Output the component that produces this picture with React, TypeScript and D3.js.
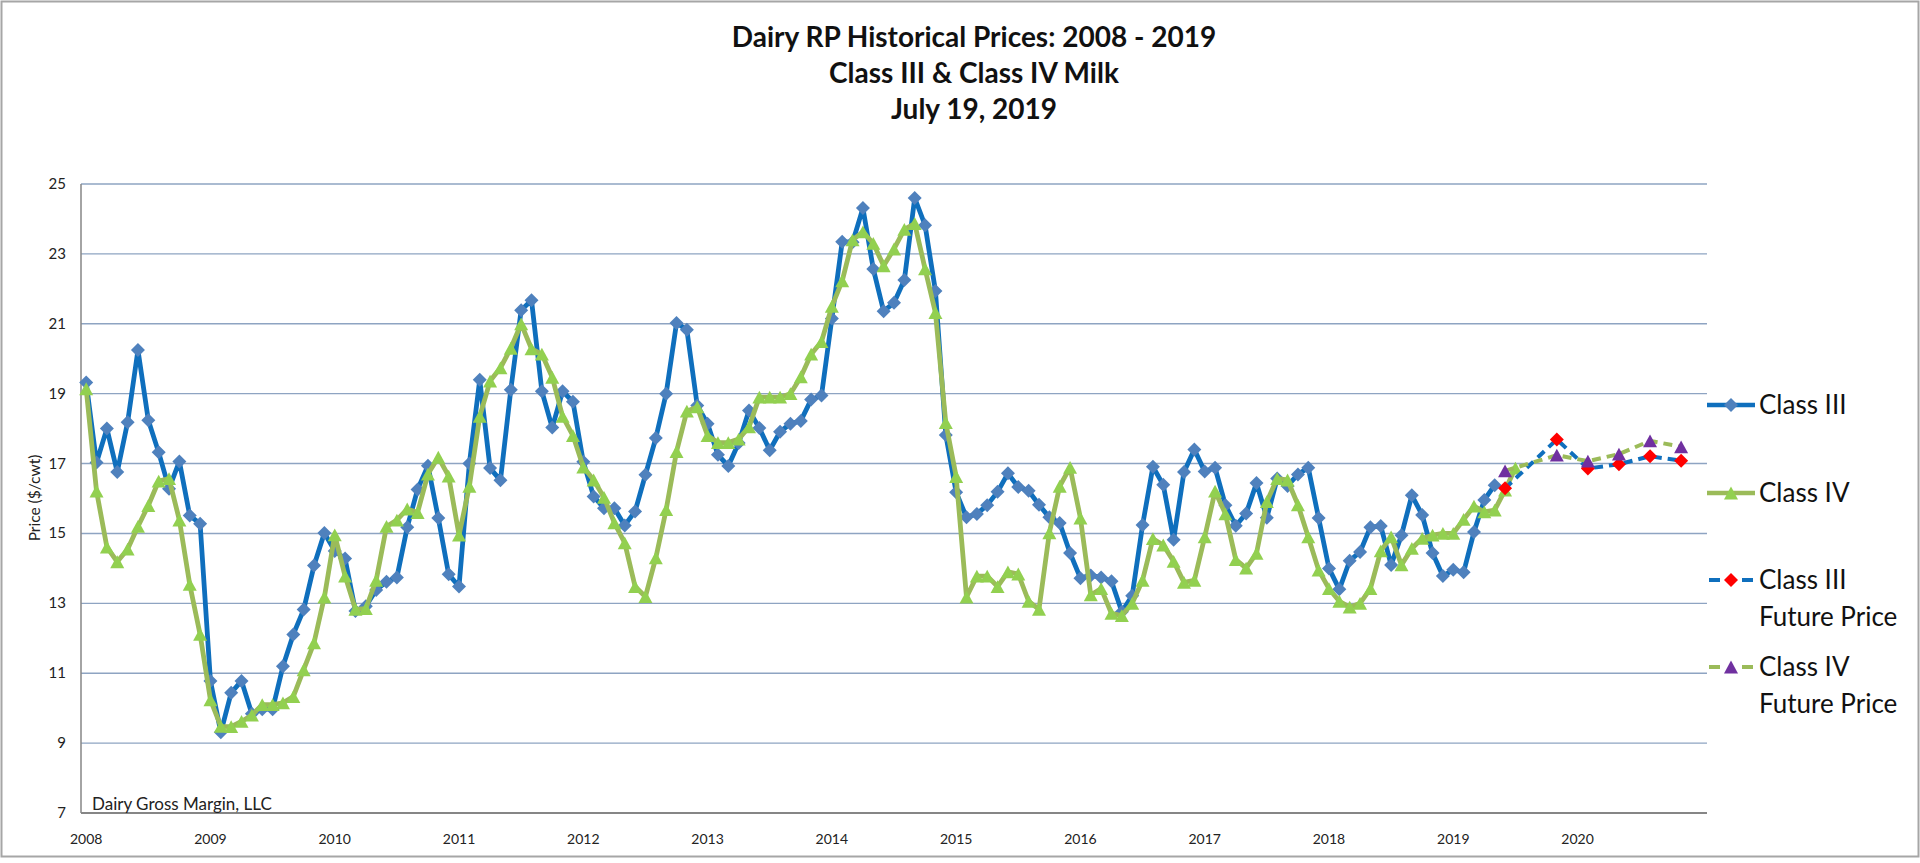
import * as d3 from 'd3'

// monthly series, index 0 = Jan 2008
const years = ['2008', '2009', '2010', '2011', '2012', '2013', '2014', '2015', '2016', '2017', '2018', '2019', '2020']

const classIII = [
  19.32, 17.03, 18.0, 16.76, 18.18, 20.25, 18.24, 17.32, 16.28, 17.06, 15.51, 15.28,
  10.78, 9.31, 10.44, 10.78, 9.84, 9.97, 9.97, 11.2, 12.11, 12.82, 14.08, 15.01,
  14.5, 14.28, 12.78, 12.92, 13.38, 13.62, 13.74, 15.18, 16.26, 16.94, 15.44, 13.83,
  13.48, 17.0, 19.4, 16.87, 16.52, 19.11, 21.39, 21.67, 19.07, 18.03, 19.07, 18.77,
  17.05, 16.06, 15.72, 15.72, 15.23, 15.63, 16.68, 17.73, 19.0, 21.02, 20.83, 18.66,
  18.14, 17.25, 16.93, 17.59, 18.52, 18.02, 17.38, 17.91, 18.14, 18.22, 18.83, 18.95,
  21.15, 23.35, 23.33, 24.31, 22.57, 21.36, 21.6, 22.25, 24.6, 23.82, 21.94, 17.82,
  16.18, 15.46, 15.56, 15.81, 16.19, 16.72, 16.33, 16.22, 15.82, 15.46, 15.3, 14.44,
  13.72, 13.8, 13.74, 13.63, 12.76, 13.22, 15.24, 16.91, 16.39, 14.82, 16.76, 17.4,
  16.77, 16.88, 15.81, 15.22, 15.57, 16.44, 15.45, 16.57, 16.36, 16.69, 16.88, 15.44,
  14.0, 13.4, 14.22, 14.47, 15.18, 15.21, 14.1, 14.95, 16.09, 15.53, 14.44, 13.78,
  13.96, 13.89, 15.04, 15.96, 16.38,
]

const classIV = [
  19.14, 16.21, 14.61, 14.19, 14.55, 15.2, 15.8, 16.5, 16.57, 15.38, 13.54, 12.11,
  10.24, 9.48, 9.47, 9.62, 9.8, 10.1, 10.1, 10.15, 10.33, 11.1, 11.87, 13.18,
  14.96, 13.78, 12.83, 12.85, 13.66, 15.2, 15.38, 15.7, 15.6, 16.7, 17.18, 16.64,
  14.95, 16.35, 18.35, 19.36, 19.74, 20.3, 21.0, 20.28, 20.13, 19.47, 18.35, 17.8,
  16.9, 16.53, 16.03, 15.3, 14.73, 13.48, 13.19, 14.3, 15.68, 17.34, 18.5, 18.62,
  17.8, 17.6, 17.6, 17.7, 18.05, 18.9, 18.9, 18.9, 19.0, 19.48, 20.13, 20.49,
  21.5, 22.23, 23.4, 23.63, 23.3, 22.66, 23.14, 23.7, 23.87, 22.57, 21.32, 18.17,
  16.63, 13.18, 13.78, 13.78, 13.48, 13.9, 13.84, 13.06, 12.83, 15.02, 16.35, 16.89,
  15.44, 13.24, 13.42, 12.71, 12.65, 13.0, 13.66, 14.85, 14.67, 14.2, 13.6, 13.66,
  14.9, 16.21, 15.56, 14.25, 14.01, 14.43, 15.91, 16.57, 16.53, 15.82, 14.9, 13.95,
  13.42, 13.06, 12.89, 13.0, 13.42, 14.5, 14.9, 14.1, 14.57, 14.86, 14.95, 15.0,
  15.0, 15.4, 15.78, 15.62, 15.67, 16.24, 16.87,
]

const futureDates = ['2019-06', '2019-11', '2020-02', '2020-05', '2020-08', '2020-11']
const classIIIFuture = [16.29, 17.69, 16.86, 16.98, 17.21, 17.08]
const classIVFuture = [16.79, 17.24, 17.07, 17.27, 17.65, 17.48]

const yTicks = [7, 9, 11, 13, 15, 17, 19, 21, 23, 25]
const titleLines = ['Dairy RP Historical Prices: 2008 - 2019', 'Class III & Class IV Milk', 'July 19, 2019']

const W = 1920
const H = 863
const FONT = 'Lato, "Open Sans", sans-serif'

const BLUE_LINE = '#0f6fbd'
const BLUE_MARK = '#4f81bd'
const GREEN_LINE = '#9bbb59'
const GREEN_MARK = '#92d050'
const RED_MARK = '#ff0000'
const PURPLE_MARK = '#7030a0'

type Pt = { m: number; v: number }

const monthIndex = (s: string) => {
  const [y, mo] = s.split('-').map(Number)
  return (y - 2008) * 12 + (mo - 1)
}

const diamond = (r: number) => `M0,${-r}L${r},0L0,${r}L${-r},0Z`
const triangle = (w: number, h: number) => `M0,${-h}L${w},${h}L${-w},${h}Z`

export default function App() {
  const x = d3.scaleLinear().domain([-0.5, 156.5]).range([81, 1707])
  const y = d3.scaleLinear().domain([7, 25]).range([813, 184])

  const line = d3
    .line<Pt>()
    .x(d => x(d.m))
    .y(d => y(d.v))

  const s3: Pt[] = classIII.map((v, i) => ({ m: i, v }))
  const s4: Pt[] = classIV.map((v, i) => ({ m: i, v }))
  const f3: Pt[] = classIIIFuture.map((v, i) => ({ m: monthIndex(futureDates[i]), v }))
  const f4: Pt[] = classIVFuture.map((v, i) => ({ m: monthIndex(futureDates[i]), v }))

  const dia = diamond(7)
  const tri = triangle(7, 6.4)

  const legend = [
    { lines: ['Class III'], y: 405, stroke: BLUE_LINE, fill: BLUE_MARK, dashed: false, mark: dia },
    { lines: ['Class IV'], y: 493, stroke: GREEN_LINE, fill: GREEN_MARK, dashed: false, mark: tri },
    { lines: ['Class III', 'Future Price'], y: 580, stroke: BLUE_LINE, fill: RED_MARK, dashed: true, mark: dia },
    { lines: ['Class IV', 'Future Price'], y: 667, stroke: GREEN_LINE, fill: PURPLE_MARK, dashed: true, mark: tri },
  ]

  return (
    <svg width={W} height={H} style={{ position: 'absolute', left: 0, top: 0, background: '#fff' }} fontFamily={FONT}>
      <rect x={1.5} y={1.5} width={W - 3} height={855} fill="#fff" stroke="#a6a6a6" strokeWidth={2} />

      {titleLines.map((t, i) => (
        <text key={t} x={974} y={47 + i * 36} textAnchor="middle" fontSize={28} fontWeight={700} fill="#111">
          {t}
        </text>
      ))}

      {/* gridlines */}
      {yTicks.slice(1).map(t => (
        <line key={t} x1={81} x2={1707} y1={y(t)} y2={y(t)} stroke="#8ea4c2" strokeWidth={1.4} />
      ))}
      <line x1={81} x2={81} y1={y(25)} y2={y(7)} stroke="#868686" strokeWidth={1.5} />
      <line x1={81} x2={1707} y1={y(7)} y2={y(7)} stroke="#868686" strokeWidth={2} />

      {yTicks.map(t => (
        <text key={t} x={66} y={y(t) + 5} textAnchor="end" fontSize={15} fill="#222">
          {t}
        </text>
      ))}
      {years.map((yr, i) => (
        <text key={yr} x={x(i * 12)} y={844} textAnchor="middle" fontSize={14} fill="#222">
          {yr}
        </text>
      ))}
      <text transform="translate(40,498) rotate(-90)" textAnchor="middle" fontSize={15.5} fill="#222">
        Price ($/cwt)
      </text>
      <text x={92} y={810} fontSize={17} fill="#222">
        Dairy Gross Margin, LLC
      </text>

      {/* Class III */}
      <path d={line(s3) ?? ''} fill="none" stroke={BLUE_LINE} strokeWidth={4.8} strokeLinejoin="round" />
      {s3.map(d => (
        <path key={'a' + d.m} d={dia} transform={`translate(${x(d.m)},${y(d.v)})`} fill={BLUE_MARK} />
      ))}

      {/* Class IV */}
      <path d={line(s4) ?? ''} fill="none" stroke={GREEN_LINE} strokeWidth={4.8} strokeLinejoin="round" />
      {s4.map(d => (
        <path key={'b' + d.m} d={tri} transform={`translate(${x(d.m)},${y(d.v)})`} fill={GREEN_MARK} />
      ))}

      {/* futures */}
      <path d={line(f3) ?? ''} fill="none" stroke={BLUE_LINE} strokeWidth={4} strokeDasharray="9 6" />
      {f3.map(d => (
        <path key={'c' + d.m} d={dia} transform={`translate(${x(d.m)},${y(d.v)})`} fill={RED_MARK} />
      ))}
      <path d={line(f4) ?? ''} fill="none" stroke={GREEN_LINE} strokeWidth={4} strokeDasharray="9 6" />
      {f4.map(d => (
        <path key={'d' + d.m} d={tri} transform={`translate(${x(d.m)},${y(d.v)})`} fill={PURPLE_MARK} />
      ))}

      {/* legend */}
      {legend.map(e => (
        <g key={e.lines.join(' ') + e.y}>
          {e.dashed ? (
            <>
              <line x1={1709} x2={1720} y1={e.y} y2={e.y} stroke={e.stroke} strokeWidth={4} />
              <line x1={1742} x2={1753} y1={e.y} y2={e.y} stroke={e.stroke} strokeWidth={4} />
            </>
          ) : (
            <line x1={1707} x2={1755} y1={e.y} y2={e.y} stroke={e.stroke} strokeWidth={4.5} />
          )}
          <path d={e.mark} transform={`translate(1731,${e.y})`} fill={e.fill} />
          {e.lines.map((l, k) => (
            <text key={l} x={1759} y={e.y + 9 + k * 37} fontSize={26} fill="#111">
              {l}
            </text>
          ))}
        </g>
      ))}
    </svg>
  )
}
